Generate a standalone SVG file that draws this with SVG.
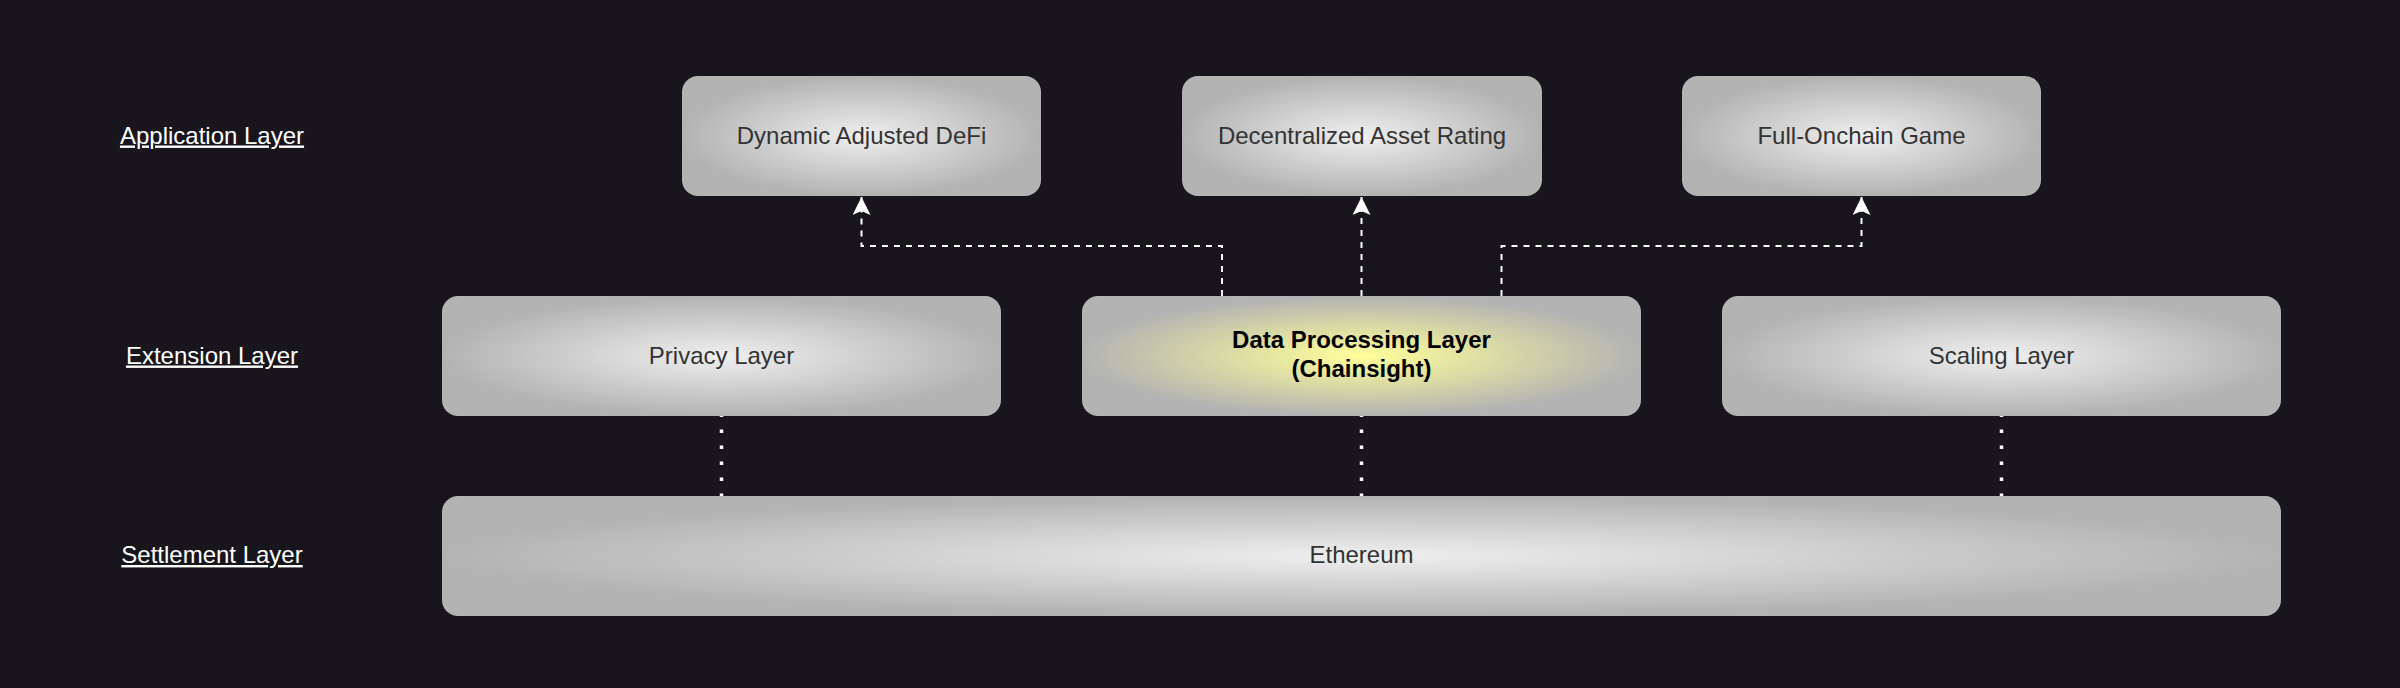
<svg xmlns="http://www.w3.org/2000/svg" width="2400" height="688" viewBox="0 0 2400 688">
<defs>
<radialGradient id="gGray" cx="0.5" cy="0.5" r="0.5">
<stop offset="0" stop-color="#EFEFEF"/>
<stop offset="1" stop-color="#B3B3B3"/>
</radialGradient>
<radialGradient id="gYellow" cx="0.5" cy="0.5" r="0.5">
<stop offset="0" stop-color="#FFFF99"/>
<stop offset="1" stop-color="#B3B3B3"/>
</radialGradient>
<marker id="arrow" markerUnits="userSpaceOnUse" markerWidth="18" markerHeight="18" viewBox="0 0 18 18" refX="18" refY="9" orient="auto">
<path d="M0,0 L18,9 L0,18 L4,9 Z" fill="#FFFFFF"/>
</marker>
</defs>
<style>
.box{stroke:none}
.gray{fill:url(#gGray)}
.yellow{fill:url(#gYellow)}
.t{font-family:"Liberation Sans",Arial,Helvetica,sans-serif;font-size:24px;fill:#333333;text-anchor:middle}
.tb{font-family:"Liberation Sans",Arial,Helvetica,sans-serif;font-size:24px;font-weight:bold;fill:#000000;text-anchor:middle}
.lbl{font-family:"Liberation Sans",Arial,Helvetica,sans-serif;font-size:24px;fill:#FFFFFF;text-anchor:middle;text-decoration:underline}
.dash{fill:none;stroke:#FFFFFF;stroke-width:2;stroke-dasharray:6 6}
.dot{fill:none;stroke:#FFFFFF;stroke-width:3.5;stroke-dasharray:3.5 12.5;stroke-dashoffset:2.5}
</style>
<rect x="0" y="0" width="2400" height="688" fill="#18161C"/>

<g id="labels">
<text class="lbl" x="212" y="143.5">Application Layer</text>
<text class="lbl" x="212" y="363.5">Extension Layer</text>
<text class="lbl" x="212" y="563">Settlement Layer</text>
</g>

<g id="connectors">
<path class="dash" d="M1222,296 V246 H861.5 V197" marker-end="url(#arrow)"/>
<path class="dash" d="M1361.5,296 V197" marker-end="url(#arrow)"/>
<path class="dash" d="M1501.5,296 V246 H1861.5 V197" marker-end="url(#arrow)"/>
<path class="dot" d="M721.5,416 V498"/>
<path class="dot" d="M1361.5,416 V498"/>
<path class="dot" d="M2001.5,416 V498"/>
</g>

<g id="node-dynamic-defi">
<rect class="box gray" x="682" y="76" width="359" height="120" rx="16" ry="16"/>
<text class="t" x="861.5" y="143.5">Dynamic Adjusted DeFi</text>
</g>
<g id="node-asset-rating">
<rect class="box gray" x="1182" y="76" width="360" height="120" rx="16" ry="16"/>
<text class="t" x="1362" y="143.5">Decentralized Asset Rating</text>
</g>
<g id="node-onchain-game">
<rect class="box gray" x="1682" y="76" width="359" height="120" rx="16" ry="16"/>
<text class="t" x="1861.5" y="143.5">Full-Onchain Game</text>
</g>

<g id="node-privacy">
<rect class="box gray" x="442" y="296" width="559" height="120" rx="16" ry="16"/>
<text class="t" x="721.5" y="363.5">Privacy Layer</text>
</g>
<g id="node-data-processing">
<rect class="box yellow" x="1082" y="296" width="559" height="120" rx="16" ry="16"/>
<text class="tb" x="1361.5" y="348">Data Processing Layer</text>
<text class="tb" x="1361.5" y="376.5">(Chainsight)</text>
</g>
<g id="node-scaling">
<rect class="box gray" x="1722" y="296" width="559" height="120" rx="16" ry="16"/>
<text class="t" x="2001.5" y="363.5">Scaling Layer</text>
</g>

<g id="node-ethereum">
<rect class="box gray" x="442" y="496" width="1839" height="120" rx="16" ry="16"/>
<text class="t" x="1361.5" y="563">Ethereum</text>
</g>
</svg>
